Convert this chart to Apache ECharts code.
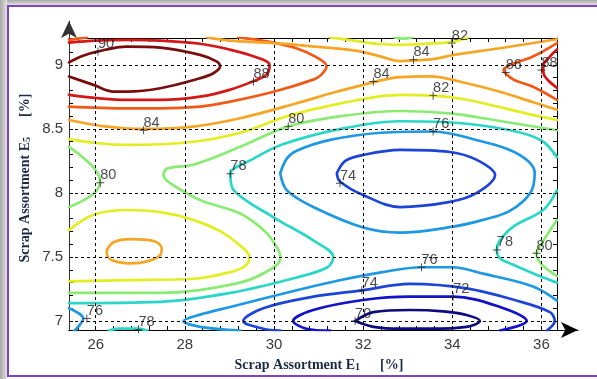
<!DOCTYPE html>
<html><head><meta charset="utf-8">
<script src="https://cdn.jsdelivr.net/npm/echarts@6/dist/echarts.min.js"></script>
<style>
html,body{margin:0;padding:0;background:#fff;}
#wrap{position:relative;width:597px;height:379px;overflow:hidden;background:#fff;}
#bandT{position:absolute;left:0;top:0;width:597px;height:5px;background:linear-gradient(#a8a8a8,#e0e0e0);}
#bandL{position:absolute;left:0;top:0;width:7px;height:379px;background:linear-gradient(90deg,#a8a8a8,#e0e0e0);}
#frame{position:absolute;left:7px;top:5px;width:600px;height:368px;border-top:2px solid #7e44b8;border-left:2px solid #7e44b8;border-bottom:2px solid #7e44b8;}
#chart{position:absolute;left:0;top:0;width:597px;height:379px;}
</style></head>
<body>
<div id="wrap"><div id="bandT"></div><div id="bandL"></div><div id="frame"></div><div id="chart"></div></div>
<script>
// ---------- data ----------
const xTicks = [26, 28, 30, 32, 34, 36];
const yTicks = [7, 7.5, 8, 8.5, 9];
const xRange = [25.4, 36.35];
const yRange = [6.93, 9.21];

const levels = [70, 72, 74, 76, 78, 80, 82, 84, 86, 88, 90];

// contour polylines [x, y]
const c90 = [[25.40,9.02],[25.7,9.07],[26.03,9.104],[26.70,9.143],[27.45,9.135],[28.34,9.078],[28.72,9.026],[28.79,8.987],[28.64,8.935],[28.34,8.896],[27.45,8.818],[26.70,8.792],[26.40,8.792],[25.95,8.844],[25.40,8.909]];
const c88a = [[25.40,9.174],[26.0,9.19],[26.7,9.195],[27.45,9.19],[28.34,9.165],[29.0,9.12],[29.6,9.06],[29.9,9.0],[29.85,8.93],[29.61,8.883],[29.0,8.805],[28.34,8.752],[27.45,8.727],[26.70,8.727],[25.40,8.766]];
const c88b = [[36.35,9.12],[36.19,9.065],[36.04,8.99],[36.05,8.93],[36.15,8.88],[36.35,8.82]];
const c86a = [[25.40,9.195],[25.6,9.205],[25.8,9.215]];
const c86b = [[29.2,9.215],[29.9,9.18],[30.5,9.13],[30.95,9.06],[31.18,8.99],[31.05,8.92],[30.88,8.885],[29.99,8.79],[29.02,8.713],[28.34,8.674],[27.45,8.66],[26.70,8.66],[25.40,8.674]];
const c86c = [[36.35,9.17],[35.81,9.065],[35.3,9.0],[35.15,8.96],[35.2,8.93],[35.4,8.88],[35.81,8.83],[36.35,8.727]];
const c84a = [[28.5,9.215],[29.0,9.19],[30.0,9.17],[31.0,9.14],[31.86,9.11],[32.4,9.065],[32.83,9.03],[33.13,9.035],[33.57,9.045],[33.99,9.075],[35.07,9.13],[36.35,9.2]];
const c84b = [[25.40,8.57],[26.2,8.52],[27.07,8.5],[28.19,8.518],[29.24,8.583],[30.51,8.70],[31.4,8.79],[32.0,8.844],[32.23,8.865],[32.83,8.905],[33.5,8.91],[34.32,8.857],[35.07,8.79],[35.8,8.71],[36.35,8.65]];
const c84c = [[26.25,7.555],[26.4,7.615],[26.77,7.64],[27.3,7.625],[27.48,7.57],[27.45,7.516],[27.2,7.47],[26.77,7.45],[26.4,7.47],[26.25,7.52],[26.25,7.555]];
const c82a = [[31.26,9.215],[31.8,9.19],[32.3,9.165],[32.83,9.156],[33.4,9.165],[34.02,9.18],[34.35,9.215]];
const c82b = [[25.40,8.42],[26.0,8.39],[26.7,8.375],[28.19,8.40],[29.24,8.47],[30.3,8.6],[31.5,8.7],[32.83,8.766],[33.57,8.76],[34.3,8.73],[35.07,8.67],[35.8,8.61],[36.35,8.57]];
const c82c = [[25.40,7.71],[25.95,7.83],[26.7,7.867],[27.45,7.85],[28.19,7.79],[28.8,7.7],[29.24,7.59],[29.45,7.5],[29.35,7.43],[29.0,7.38],[28.19,7.33],[26.7,7.32],[25.40,7.31]];
const c80a = [[32.7,9.215],[32.9,9.205],[33.1,9.215]];
const c80b = [[25.40,8.36],[25.95,8.2],[26.1,8.08],[25.9,7.98],[25.40,7.89]];
const c80c = [[36.35,8.49],[35.1,8.56],[34.0,8.62],[32.83,8.64],[31.5,8.6],[30.32,8.52],[29.24,8.36],[28.19,8.22],[27.6,8.19],[27.52,8.14],[27.67,8.076],[28.34,7.945],[29.24,7.84],[29.8,7.7],[30.06,7.58],[30.14,7.5],[30.0,7.42],[29.24,7.30],[27.45,7.22],[25.40,7.22]];
const c80d = [[36.35,7.79],[35.96,7.58],[35.89,7.53],[35.93,7.48],[36.04,7.43],[36.35,7.35]];
const c78a = [[36.35,8.28],[36.0,8.41],[35.3,8.49],[34.0,8.55],[32.8,8.56],[31.5,8.5],[30.2,8.38],[29.5,8.26],[29.02,8.15],[29.1,8.02],[29.99,7.81],[30.88,7.63],[31.33,7.5],[31.2,7.42],[30.51,7.34],[29.02,7.22],[27.45,7.15],[25.40,7.14]];
const c78b = [[36.35,8.02],[36.04,7.867],[35.37,7.737],[35.05,7.62],[35.0,7.555],[35.07,7.49],[35.37,7.44],[35.9,7.36],[36.35,7.30]];
const c78c = [[26.3,6.925],[26.5,6.94],[26.95,6.94],[27.15,6.925]];
const c76a = [[30.14,8.154],[30.29,8.27],[30.51,8.33],[31.26,8.414],[32.4,8.47],[33.57,8.48],[34.69,8.40],[35.29,8.336],[35.7,8.25],[35.85,8.156],[35.75,8.0],[35.29,7.86],[34.69,7.79],[34.02,7.737],[32.83,7.69],[32.0,7.73],[30.88,7.89],[30.29,8.02],[30.14,8.154]];
const c76b = [[25.40,7.10],[25.72,7.02],[25.62,6.96],[25.52,6.925]];
const c76c = [[29.24,6.925],[28.34,6.955],[27.97,7.0],[28.34,7.05],[29.02,7.11],[30.51,7.24],[31.5,7.32],[32.4,7.38],[33.31,7.42],[34.0,7.42],[34.69,7.37],[35.81,7.27],[36.35,7.16]];
const c74a = [[31.41,8.154],[31.6,8.25],[32.0,8.297],[32.83,8.336],[33.95,8.32],[34.55,8.258],[34.96,8.14],[34.55,8.0],[33.95,7.93],[32.83,7.89],[32.0,7.984],[31.48,8.09],[31.41,8.154]];
const c74b = [[30.14,6.925],[29.76,6.94],[29.31,7.0],[29.76,7.1],[30.88,7.19],[31.97,7.24],[33.05,7.29],[34.32,7.255],[35.44,7.16],[36.19,7.07],[36.3,7.0],[36.12,6.925]];
const c72 = [[31.26,6.925],[30.73,6.94],[30.43,7.0],[30.88,7.086],[32.0,7.164],[33.05,7.19],[34.02,7.19],[35.07,7.11],[35.67,7.0],[35.07,6.925]];
const c70 = [[31.82,7.0],[32.23,7.07],[33.05,7.086],[33.8,7.075],[34.32,7.047],[34.62,7.0],[34.32,6.955],[33.5,6.94],[32.83,6.94],[32.23,6.955],[31.82,7.0]];

const contourLevels = [90, 88, 88, 86, 86, 86, 84, 84, 84, 82, 82, 82, 80, 80, 80, 80, 78, 78, 78, 76, 76, 76, 74, 74, 72, 70];
const contourLines  = [c90, c88a, c88b, c86a, c86b, c86c, c84a, c84b, c84c, c82a, c82b, c82c, c80a, c80b, c80c, c80d, c78a, c78b, c78c, c76a, c76b, c76c, c74a, c74b, c72, c70];

// contour labels: x, y, text
const labelX = [26.05, 29.54, 27.07, 32.23, 33.13, 33.99, 35.20, 36.00, 33.57, 30.32, 33.57, 26.10, 29.02, 31.48, 35.00, 35.89, 33.31, 31.97, 34.02, 31.82, 25.80, 26.96];
const labelY = [9.104, 8.870, 8.490, 8.870, 9.040, 9.170, 8.940, 8.960, 8.760, 8.520, 8.480, 8.080, 8.150, 8.076, 7.555, 7.530, 7.420, 7.240, 7.190, 7.000, 7.020, 6.935];
const labelT = ['90','88','84','84','84','82','86','88','82','80','76','80','78','74','78','80','76','74','72','70','76','78'];

// ---------- styles ----------
const levelColors = ['#0b0b7e','#1212c8','#1c45d8','#1e98e2','#2ad6c8','#8aeb72','#e4ec22','#f4a624','#f05a16','#d41818','#7a0c0c'];
const colorOf = l => levelColors[levels.indexOf(l)];

const minorX = []; for (let i = 0; 25.6 + i * 0.4 <= 36.2; i++) minorX.push(+(25.6 + i * 0.4).toFixed(2));
const minorY = []; for (let i = 0; 7 + i * 0.1 <= 9.2001; i++) minorY.push(+(7 + i * 0.1).toFixed(2));

const tickFont = {fontFamily: 'Liberation Sans, Arial, sans-serif', fontSize: 15, color: '#3a3a3a'};
const nameRich = {
  a: {fontFamily: 'Liberation Serif, serif', fontWeight: 'bold', fontSize: 14, color: '#1c2a48'},
  s: {fontFamily: 'Liberation Serif, serif', fontWeight: 'bold', fontSize: 10, color: '#1c2a48', verticalAlign: 'bottom'},
  p: {fontFamily: 'Liberation Serif, serif', fontWeight: 'bold', fontSize: 14, color: '#1c2a48', padding: [0, 0, 0, 20]},
  q: {width: 12}
};

const chart = echarts.init(document.getElementById('chart'), null, {renderer: 'canvas'});

const series = contourLines.map((pts, i) => ({
  type: 'line', xAxisIndex: 0, yAxisIndex: 0, data: pts, smooth: 0.35, symbol: 'none',
  lineStyle: {color: colorOf(contourLevels[i]), width: 2.7, cap: 'round', join: 'round'},
  silent: true, animation: false, z: 3
}));

series.unshift({
  type: 'line', xAxisIndex: 0, yAxisIndex: 0, data: [], symbol: 'none', silent: true, animation: false, z: 1,
  markLine: {
    silent: true, symbol: 'none', animation: false, label: {show: false},
    lineStyle: {color: '#000', width: 1, type: [3, 3]},
    data: xTicks.map(v => ({xAxis: v})).concat(yTicks.map(v => ({yAxis: v})))
  }
});

series.push({
  type: 'scatter', xAxisIndex: 0, yAxisIndex: 0, silent: true, animation: false, z: 5,
  data: labelX.map((x, i) => [x, labelY[i], labelT[i]]),
  symbol: 'path://M4.4,0h1.2v10h-1.2z M0,4.4h10v1.2h-10z', symbolSize: 8,
  itemStyle: {color: '#222'},
  label: {show: true, position: [4, -11], formatter: p => p.value[2],
    fontFamily: 'Liberation Sans, Arial, sans-serif', fontSize: 14.5, color: '#1a1a1a'}
});

const frameAxis = (extra) => Object.assign({
  type: 'value', gridIndex: 0, splitLine: {show: false},
  axisLine: {show: true, onZero: false, lineStyle: {color: '#000', width: 1}},
}, extra);

chart.setOption({
  animation: false,
  backgroundColor: 'transparent',
  grid: [
    {left: 69, top: 38, right: 597 - 557, bottom: 379 - 330, outerBoundsMode: 'none', containLabel: false},
    {left: 69, top: 21, right: 597 - 578, bottom: 379 - 330, outerBoundsMode: 'none', containLabel: false}
  ],
  xAxis: [
    frameAxis({position: 'bottom', min: xRange[0], max: xRange[1],
      axisTick: {show: true, inside: true, length: 4, customValues: minorX, lineStyle: {color: '#000'}},
      axisLabel: Object.assign({show: true, customValues: xTicks, margin: 7}, tickFont),
      name: '{q|}{a|Scrap Assortment E}{s|1}{p|[%]}', nameLocation: 'middle', nameGap: 28,
      nameTextStyle: {rich: nameRich}, nameMoveOverlap: false}),
    frameAxis({position: 'top', min: xRange[0], max: xRange[1],
      axisTick: {show: true, inside: true, length: 4, customValues: minorX, lineStyle: {color: '#000'}},
      axisLabel: {show: false}}),
    {type: 'value', gridIndex: 1, min: 0, max: 1, splitLine: {show: false}, axisTick: {show: false}, axisLabel: {show: false},
      axisLine: {show: true, onZero: false, symbol: ['none', 'arrow'], symbolSize: [12, 17], lineStyle: {color: '#000', width: 1}}}
  ],
  yAxis: [
    frameAxis({position: 'left', min: yRange[0], max: yRange[1],
      axisLine: {show: true, onZero: false, lineStyle: {color: '#333', width: 1}},
      axisTick: {show: true, inside: true, length: 4, customValues: minorY, lineStyle: {color: '#000'}},
      axisLabel: Object.assign({show: true, customValues: yTicks, margin: 6}, tickFont),
      name: '{q|}{a|Scrap Assortment E}{s|5}{p|[%]}', nameLocation: 'middle', nameGap: 37, nameRotate: 90,
      nameTextStyle: {rich: nameRich}, nameMoveOverlap: false}),
    frameAxis({position: 'right', min: yRange[0], max: yRange[1],
      axisTick: {show: true, inside: true, length: 4, customValues: minorY, lineStyle: {color: '#000'}},
      axisLabel: {show: false}}),
    {type: 'value', gridIndex: 1, min: 0, max: 1, splitLine: {show: false}, axisTick: {show: false}, axisLabel: {show: false},
      axisLine: {show: true, onZero: false, symbol: ['none', 'arrow'], symbolSize: [12, 17], lineStyle: {color: '#333', width: 1}}}
  ],
  series: series
});
</script>
</body></html>
